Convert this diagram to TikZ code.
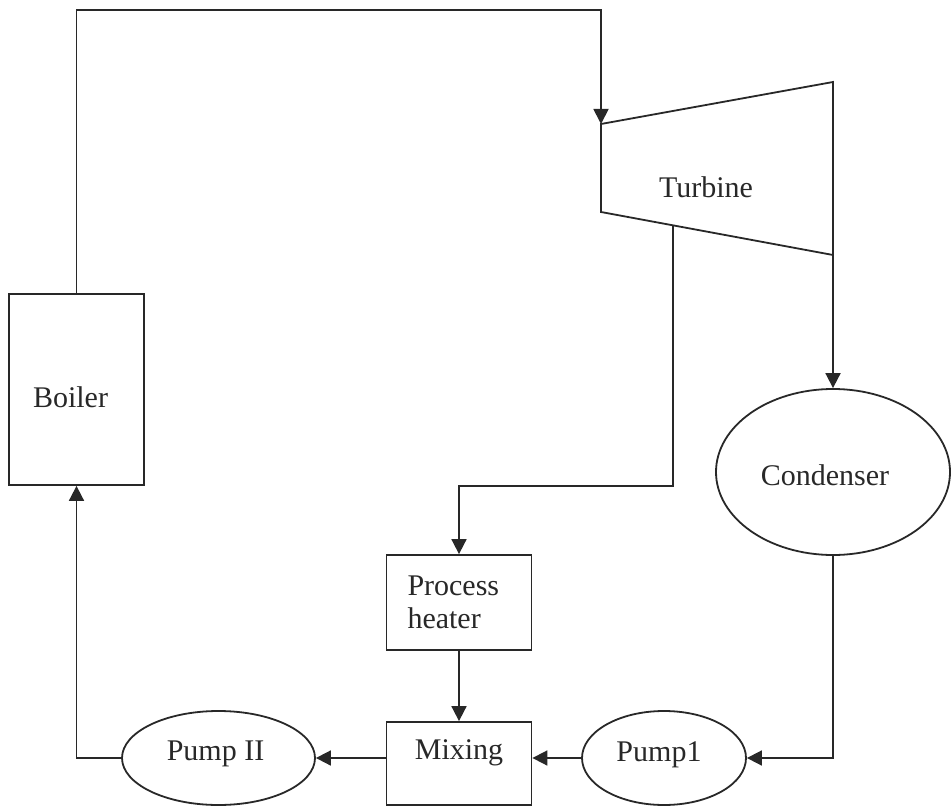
\documentclass[tikz,border=0pt]{standalone}
\usepackage{fontspec}
\setmainfont{Liberation Serif}
\usetikzlibrary{arrows.meta,shapes.geometric,calc}
\definecolor{ink}{RGB}{40,40,40}
\begin{document}
\begin{tikzpicture}[x=0.5pt,y=-0.5pt,color=ink,line width=0.9pt,
  flow/.style={-{Triangle[width=7.5pt,length=7.5pt]}},
  box/.style={draw,rectangle,inner sep=0pt},
  oval/.style={draw,ellipse,inner sep=0pt},
  font=\fontsize{15pt}{16.5pt}\selectfont]
\useasboundingbox (0,0) rectangle (952,807);
% components
\node[box,minimum width=67.5pt,minimum height=95.5pt,label={[xshift=-3pt,yshift=-4pt]center:Boiler}] (boiler) at (76.5,389.5) {};
\coordinate (t1) at (601,124);
\coordinate (t2) at (833,82);
\coordinate (t3) at (833,255);
\coordinate (t4) at (601,212);
\draw (t1) -- (t2) -- (t3) -- (t4) -- cycle;
\node (turbine) at (706,187) {Turbine};
\coordinate (tx) at ($(t4)!0.31!(t3)$);
\node[oval,minimum width=117pt,minimum height=83pt,label={[xshift=-4pt,yshift=-1.5pt]center:Condenser}] (cond) at (833,472) {};
\node[box,minimum height=47.5pt,text width=51.5pt,inner xsep=10.5pt,align=left] (heater) at (459,602.5) {Process\\heater};
\node[box,minimum width=72.5pt,minimum height=41.5pt,label={[yshift=5.25pt]center:Mixing}] (mixing) at (459,763.5) {};
\node[oval,minimum width=82pt,minimum height=47pt,label={[xshift=-2.5pt,yshift=1.5pt]center:Pump1}] (pump1) at (664,758) {};
\node[oval,minimum width=96.5pt,minimum height=47pt,label={[xshift=-1.5pt,yshift=2pt]center:Pump II}] (pump2) at (218.5,758) {};
% connectors
\coordinate (c1) at (601,10);
\coordinate (c2) at (673,486);
\draw[flow] (boiler.north) |- (c1) -- (t1);
\draw[flow] (t3) -- (cond.north);
\draw[flow] (tx) -- (c2) -| (heater.north);
\draw[flow] (cond.south) |- (pump1.east);
\draw[flow] (pump1.west) -- (pump1.west -| mixing.east);
\draw[flow] (heater.south) -- (mixing.north);
\draw[flow] (mixing.west |- pump2.east) -- (pump2.east);
\draw[flow] (pump2.west) -| (boiler.south);
\end{tikzpicture}
\end{document}
